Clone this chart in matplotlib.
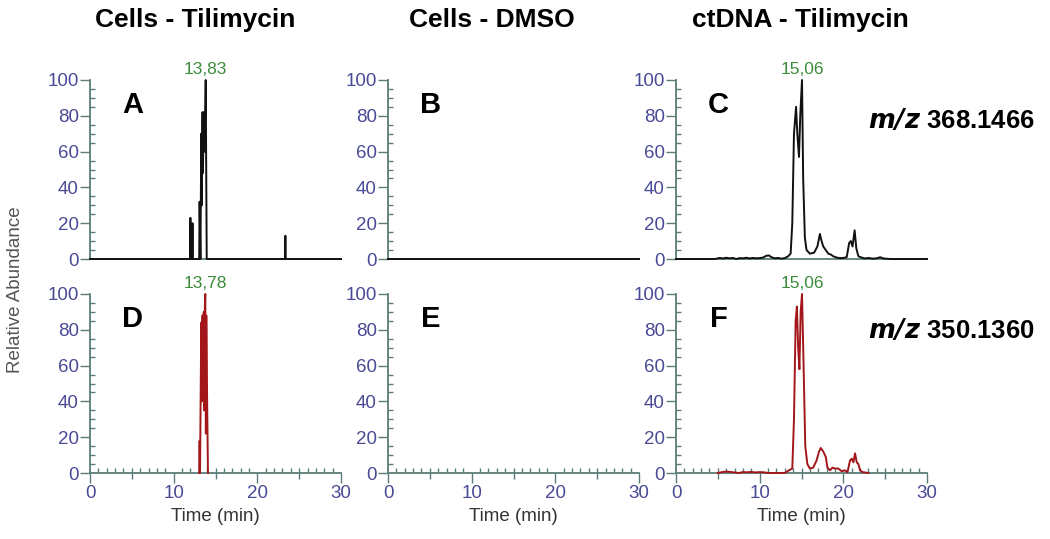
import matplotlib
matplotlib.use("Agg")
import matplotlib.pyplot as plt
from matplotlib.ticker import MultipleLocator, FixedLocator

plt.rcParams['font.family'] = ['Liberation Sans', 'DejaVu Sans']

# ---- data (time in min, relative abundance in %) ----
a_time = [0.0, 11.95, 12.0, 12.05, 12.2, 12.25, 12.3, 13.05, 13.1, 13.2, 13.3,
          13.35, 13.45, 13.5, 13.6, 13.7, 13.83, 13.95, 23.3, 23.35, 23.4, 30.0]
a_int = [0, 0, 23, 0, 0, 20, 0, 0, 32, 0, 70, 30, 82, 48, 82, 60, 100, 0, 0, 13, 0, 0]

b_time = [0.0, 30.0]
b_int = [0, 0]

c_time = [0.0, 4.7, 5.2, 5.6, 6.0, 6.4, 6.8, 7.2, 7.6, 8.0, 8.4, 8.8, 9.2, 9.6,
          10.0, 10.4, 10.8, 11.1, 11.4, 11.8, 12.2, 12.6, 13.0, 13.4, 13.7,
          13.9, 14.1, 14.35, 14.5, 14.7, 14.85, 15.06, 15.2, 15.4, 15.6, 16.0,
          16.5, 16.9, 17.2, 17.4, 17.6, 17.9, 18.2, 18.5, 18.8, 19.2, 19.6,
          20.0, 20.4, 20.7, 20.9, 21.1, 21.35, 21.55, 21.8, 22.2, 22.6, 23.0,
          23.5, 24.0, 24.4, 24.8, 25.6, 30.0]
c_int = [0, 0, 0.6, 0.3, 0.7, 0.4, 0.6, 0, 0.5, 0.4, 0.7, 0.3, 0.6, 0.4,
         0.5, 0.8, 1.8, 2.0, 1.0, 0.4, 0.6, 0.2, 0.5, 1.5, 3.0,
         20, 70, 85, 70, 57, 80, 100, 45, 12, 5, 3,
         3.5, 7, 14, 10, 7, 5, 3, 2.5, 1.5, 0.8, 0.5,
         0.6, 1.0, 9, 10, 7, 16, 6, 1.5, 0.8, 0.3, 0.6,
         0.2, 0.4, 1.0, 0.3, 0, 0]

d_time = [13.05, 13.1, 13.15, 13.3, 13.35, 13.45, 13.5, 13.6, 13.65, 13.72,
          13.78, 13.85, 13.9, 14.0, 14.1]
d_int = [0, 18, 0, 84, 40, 88, 55, 90, 35, 92, 100, 22, 88, 40, 0]

f_time = [5.0, 5.5, 6.0, 6.5, 7.0, 7.5, 8.0, 8.5, 9.0, 9.5, 10.0, 10.5, 11.0,
          12.0, 13.0, 13.5, 13.9, 14.1, 14.3, 14.45, 14.6, 14.75, 14.9, 15.06,
          15.25, 15.45, 15.7, 16.0, 16.4, 16.8, 17.1, 17.3, 17.6, 17.9, 18.1,
          18.4, 18.7, 19.0, 19.4, 19.8, 20.2, 20.5, 20.8, 21.0, 21.2, 21.4,
          21.6, 21.8, 22.0, 22.3, 23.0]
f_int = [0, 0.5, 0.8, 0.6, 0.3, 0, 0.5, 0.4, 0.6, 0.3, 0.5, 0.4, 0,
         0, 0, 1.5, 2.5, 30, 85, 93, 70, 58, 90, 100,
         60, 15, 5, 2.5, 3, 7, 12, 14, 12, 9, 3,
         1.5, 3, 2.5, 2.5, 1.0, 1.5, 0.5, 7, 8, 6, 11,
         6, 5, 1.5, 0.5, 0]

col_titles = ["Cells - Tilimycin", "Cells - DMSO", "ctDNA - Tilimycin"]
panel_letters = ["A", "B", "C", "D", "E", "F"]
peak_labels = {0: (13.83, "13,83"), 2: (15.06, "15,06"),
               3: (13.78, "13,78"), 5: (15.06, "15,06")}
mz_labels = ["368.1466", "350.1360"]

series = [(a_time, a_int), (b_time, b_int), (c_time, c_int),
          (d_time, d_int), None, (f_time, f_int)]

# ---- styling ----
W, H = 1050, 539
axis_col = "#5b7d78"
tick_col = "#4a4a96"
green = "#3c8c3c"
line_cols = ["#111111", "#111111", "#111111", "#a3171b", "#a3171b", "#a3171b"]

fig = plt.figure(figsize=(W / 100, H / 100), dpi=100)

lefts = [90, 388, 676]
tops = [80, 294]
aw, ah = 251, 179

axes = []
for r in range(2):
    for c in range(3):
        ax = fig.add_axes([lefts[c] / W, (H - tops[r] - ah) / H, aw / W, ah / H])
        axes.append(ax)

for i, ax in enumerate(axes):
    row = i // 3
    ax.set_xlim(0, 30)
    ax.set_ylim(0, 100)
    for s in ["top", "right"]:
        ax.spines[s].set_visible(False)
    for s in ["left", "bottom"]:
        ax.spines[s].set_color(axis_col)
        ax.spines[s].set_linewidth(1.3)
    ax.patch.set_alpha(0)

    ax.yaxis.set_major_locator(MultipleLocator(20))
    ax.yaxis.set_minor_locator(MultipleLocator(5))
    ax.tick_params(axis="y", which="major", direction="out", length=7, width=1,
                   color=axis_col, labelcolor=tick_col, labelsize=13.5, pad=1)
    ax.tick_params(axis="y", which="minor", direction="in", length=3.5, width=1,
                   color=axis_col)

    if row == 0:
        ax.tick_params(axis="x", which="both", bottom=False, labelbottom=False)
    else:
        ax.xaxis.set_major_locator(MultipleLocator(10))
        ax.xaxis.set_minor_locator(MultipleLocator(1))
        ax.tick_params(axis="x", which="major", direction="out", length=7, width=1,
                       color=axis_col, labelcolor=tick_col, labelsize=13.5, pad=2)
        ax.tick_params(axis="x", which="minor", direction="in", length=3.5, width=1,
                       color=axis_col)
        sec = ax.secondary_xaxis("bottom")
        sec.xaxis.set_major_locator(FixedLocator([5, 15, 25]))
        sec.tick_params(direction="out", length=4, width=1, color=axis_col,
                        labelbottom=False)
        sec.spines["bottom"].set_visible(False)
        ax.set_xlabel("Time (min)", fontsize=13.5, color="#333333", labelpad=4)

    if series[i] is not None:
        t, y = series[i]
        ax.plot(t, y, color=line_cols[i], lw=1.4, clip_on=False, zorder=3)

    if i in peak_labels:
        px, txt = peak_labels[i]
        ax.text(px, 101.5, txt, color=green, fontsize=12.5, ha="center", va="bottom")

    ax.text(0.17, 0.86, panel_letters[i], transform=ax.transAxes, fontsize=21,
            fontweight="bold", ha="center", va="center", color="black")

# column titles
title_x = [195, 492, 800]
for x, t in zip(title_x, col_titles):
    fig.text(x / W, 1 - 20 / H, t, fontsize=19, fontweight="bold",
             ha="center", va="center")

# m/z labels
for y, mz in zip([120, 330], mz_labels):
    fig.text(951 / W, 1 - y / H, r"$\bfit{m/z}$ " + mz, fontsize=18.5,
             fontweight="bold", ha="center", va="center")

fig.text(16 / W, 1 - 290 / H, "Relative Abundance", rotation=90, fontsize=13.5,
         color="#555555", ha="center", va="center")

fig.savefig("out.png", dpi=100)
